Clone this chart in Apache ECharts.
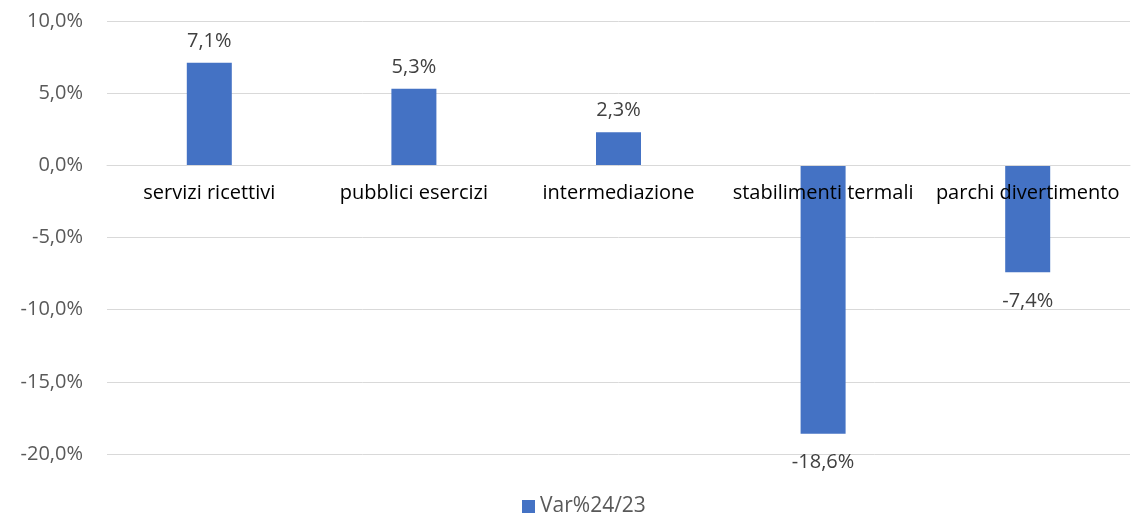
<!DOCTYPE html>
<html><head><meta charset="utf-8">
<script src="https://cdn.jsdelivr.net/npm/echarts@6/dist/echarts.min.js"></script>
<style>html,body{margin:0;padding:0;background:#fff}#c{width:1134px;height:517px}</style>
</head><body><div id="c"></div>
<script>
const categories = ['servizi ricettivi','pubblici esercizi','intermediazione','stabilimenti termali','parchi divertimento'];
const values = [7.1, 5.3, 2.3, -18.6, -7.4];
const seriesName = 'Var%24/23';
const yMin = -20, yMax = 10, yStep = 5;
const fmt = v => v.toFixed(1).replace('.', ',') + '%';
const FONT = 'Open Sans';
const FS = 20;
const chart = echarts.init(document.getElementById('c'));
chart.setOption({
  animation:false,
  textStyle:{fontFamily:FONT},
  grid:{left:107,right:4,top:21,bottom:63,containLabel:false},
  legend:{bottom:-5,left:517,itemWidth:13,itemHeight:13,icon:'rect',itemGap:4,
    textStyle:{color:'#595959',fontSize:21,fontFamily:FONT},data:[seriesName]},
  xAxis:{type:'category',data:categories,z:10,
    axisLine:{onZero:true,lineStyle:{color:'#D9D9D9',width:1}},
    axisTick:{show:false},
    axisLabel:{color:'#000',fontSize:FS,margin:18,interval:0,fontFamily:FONT}},
  yAxis:{type:'value',min:yMin,max:yMax,interval:yStep,
    axisLine:{show:false},axisTick:{show:false},
    splitLine:{lineStyle:{color:'#D9D9D9',width:1}},
    axisLabel:{color:'#595959',fontSize:FS,margin:24,formatter:fmt,fontFamily:FONT}},
  series:[{name:seriesName,type:'bar',barWidth:45,
    itemStyle:{color:'#4472C4'},
    data:values.map(v=>({value:v,label:v<0?{position:'bottom',distance:19}:{position:'top',distance:12}})),
    label:{show:true,color:'#404040',fontSize:FS,fontFamily:FONT,formatter:p=>fmt(p.value)}}]
});
// place the category axis on the zero line using the value scale
const y0 = chart.convertToPixel({yAxisIndex:0}, 0);
const yB = chart.convertToPixel({yAxisIndex:0}, yMin);
chart.setOption({xAxis:{offset:-(yB - y0), axisLine:{onZero:false}}});
</script></body></html>
